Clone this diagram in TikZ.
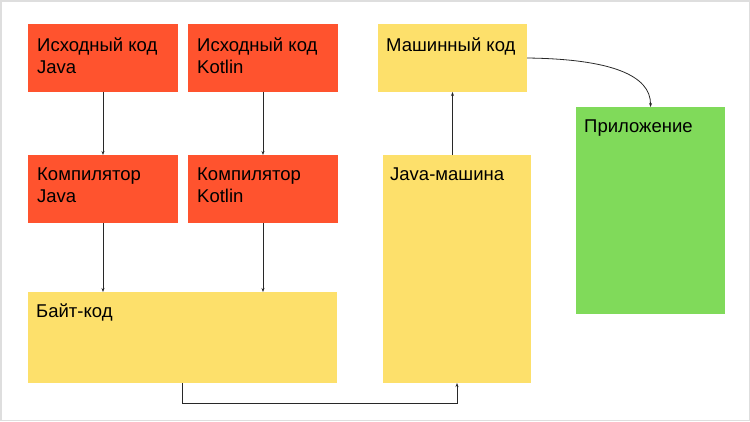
\documentclass[tikz,border=0pt]{standalone}
\usepackage{fontspec}
\setmainfont{Liberation Sans}
\usetikzlibrary{arrows.meta,calc}
\definecolor{cred}{RGB}{255,83,46}
\definecolor{cyel}{RGB}{253,224,107}
\definecolor{cgrn}{RGB}{128,218,90}
\definecolor{cline}{RGB}{40,40,40}
\definecolor{cframe}{RGB}{222,222,222}
\newcommand{\twolines}[2]{\begin{tabular}[t]{@{}l@{}}#1\\#2\end{tabular}}
\begin{document}
\begin{tikzpicture}[x=1pt,y=-1pt,
  box/.style={draw=none,inner sep=0,outer sep=0,anchor=north west},
  redbox/.style={box,fill=cred,minimum width=150pt,minimum height=68pt},
  lbl/.style={anchor=base west,inner sep=0,font=\fontsize{18.5}{22}\selectfont,text=black},
  conn/.style={draw=cline,line width=0.8pt,-{Stealth[length=4pt,width=3pt]}}]
\useasboundingbox (0,0) rectangle (750,421);
\draw[cframe,line width=1.5pt] (0.75,0.75) rectangle (749.25,420.25);
% boxes
\node[redbox] (sj) at (28,24) {};
\node[redbox] (sk) at (188,24) {};
\node[redbox] (cj) at (28,155) {};
\node[redbox] (ck) at (188,155) {};
\node[box,fill=cyel,minimum width=309pt,minimum height=91pt] (bc) at (28,292) {};
\node[box,fill=cyel,minimum width=148pt,minimum height=228pt] (jvm) at (383,155) {};
\node[box,fill=cyel,minimum width=149pt,minimum height=68pt] (mc) at (378,24) {};
\node[box,fill=cgrn,minimum width=149pt,minimum height=207pt] (app) at (576,107) {};
% labels
\node[lbl] (tsj) at ($(sj.north west)+(9,27)$) {\twolines{Исходный код}{Java}};
\node[lbl] (tsk) at ($(sk.north west)+(9,27)$) {\twolines{Исходный код}{Kotlin}};
\node[lbl] (tcj) at ($(cj.north west)+(9,25)$) {\twolines{Компилятор}{Java}};
\node[lbl] (tck) at ($(ck.north west)+(9,25)$) {\twolines{Компилятор}{Kotlin}};
\node[lbl] (tbc) at ($(bc.north west)+(8,25)$) {Байт-код};
\node[lbl] (tjvm) at ($(jvm.north west)+(7,25)$) {Java-машина};
\node[lbl] (tmc) at ($(mc.north west)+(8,27)$) {Машинный код};
\node[lbl] (tapp) at ($(app.north west)+(8,25)$) {Приложение};
% connectors
\draw[conn] (sj.south) -- (cj.north);
\draw[conn] (sk.south) -- (ck.north);
\draw[conn] (cj.south) -- (cj.south |- bc.north);
\draw[conn] (ck.south) -- (ck.south |- bc.north);
\draw[conn] (bc.south) -- ++(0,20) -| (jvm.south);
\draw[conn] (jvm.north -| mc.south) -- (mc.south);
\draw[conn] (mc.east) .. controls (610,59) and (651,75) .. (app.north);
\end{tikzpicture}
\end{document}
